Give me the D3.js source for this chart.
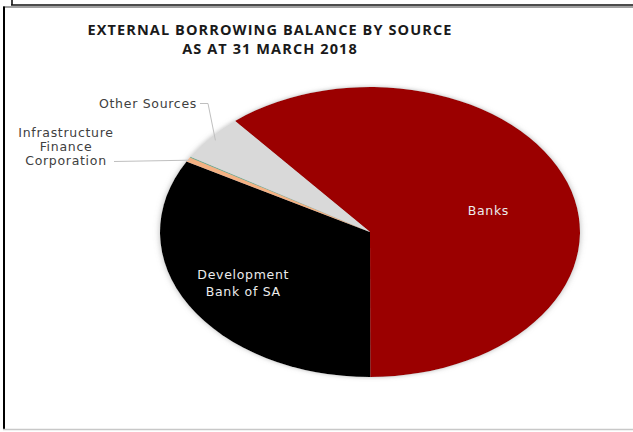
<!DOCTYPE html>
<meta charset="utf-8">
<html>
  <head>
    <style>
      body { margin: 0; background: #fff; }
      text.title { font-family: "Open Sans", sans-serif; font-weight: bold; font-size: 14.5px; letter-spacing: 1.1px; fill: #1a1a1a; }
      text.lbl { font-family: "DejaVu Sans", sans-serif; font-size: 12.5px; letter-spacing: 0.7px; fill: #404040; }
      text.inside { fill: #ececec; }
      path.leader { fill: none; stroke: #bfbfbf; stroke-width: 1px; }
    </style>
    <script src="https://d3js.org/d3.v7.min.js"></script>
  </head>
  <body>
    <div id="chart"></div>
    <script type="text/javascript">
      // share of external borrowing (%)
      var sources = ["Banks", "Development Bank of SA", "Infrastructure Finance Corporation", "Other Lenders", "Other Sources"],
          shares = [61.1, 33.1, 0.5, 0.1, 5.2],
          colors = ["#9b0000", "#000000", "#f4b183", "#6aa889", "#d9d9d9"],
          titleLines = ["EXTERNAL BORROWING BALANCE BY SOURCE", "AS AT 31 MARCH 2018"];

      var width = 633, height = 432,
          cx = 370, cy = 232, rx = 210, ry = 145, r = 100;

      var svg = d3.select("#chart").append("svg")
          .attr("width", width)
          .attr("height", height);

      // frame of the document box
      svg.append("line").attr("x1", 12).attr("x2", 12).attr("y1", 0).attr("y2", 5)
          .attr("stroke", "#000").attr("stroke-width", 1.5);
      svg.append("line").attr("x1", 11).attr("x2", width).attr("y1", 5).attr("y2", 5)
          .attr("stroke", "#111").attr("stroke-width", 1.5);
      svg.append("line").attr("x1", 3).attr("x2", width).attr("y1", 7).attr("y2", 7)
          .attr("stroke", "#444").attr("stroke-width", 1);
      svg.append("line").attr("x1", 4).attr("x2", 4).attr("y1", 6.5).attr("y2", 429)
          .attr("stroke", "#000").attr("stroke-width", 2);
      svg.append("line").attr("x1", 3).attr("x2", width).attr("y1", 429.5).attr("y2", 429.5)
          .attr("stroke", "#c8c8c8").attr("stroke-width", 1.5);

      svg.selectAll(".title")
          .data(titleLines)
          .enter().append("text")
            .attr("class", "title")
            .attr("x", 270)
            .attr("y", function(d, i) { return 35 + i * 18.5; })
            .style("text-anchor", "middle")
            .text(function(d) { return d; });

      var defs = svg.append("defs");
      defs.append("filter").attr("id", "glow")
          .attr("x", "-10%").attr("y", "-10%").attr("width", "120%").attr("height", "120%")
        .append("feDropShadow")
          .attr("dx", 0).attr("dy", 0).attr("stdDeviation", 1.5)
          .attr("flood-color", "#888").attr("flood-opacity", 0.6);

      var data = sources.map(function(s, i) { return { source: s, share: shares[i], color: colors[i] }; });

      var pie = d3.pie()
          .sort(null)
          .startAngle(-40 * Math.PI / 180)
          .endAngle(320 * Math.PI / 180)
          .value(function(d) { return d.share; });

      var arcs = pie(data);
      var arc = d3.arc().innerRadius(0).outerRadius(r);

      var g = svg.append("g")
          .attr("filter", "url(#glow)")
          .attr("transform", "translate(" + cx + "," + cy + ") scale(" + (rx / r) + "," + (ry / r) + ")");

      g.selectAll("path")
          .data(arcs)
          .enter().append("path")
            .attr("d", arc)
            .attr("fill", function(d) { return d.data.color; });

      // point on the stretched pie at angle a and radial fraction k
      function at(a, k) {
        return [cx + Math.sin(a) * rx * k, cy - Math.cos(a) * ry * k];
      }
      function mid(d) { return (d.startAngle + d.endAngle) / 2; }

      // inside labels: radial fraction and a small vertical nudge
      var inside = { "Banks": { k: 0.6, dy: 9, lines: ["Banks"] },
                     "Development Bank of SA": { k: 0.7, dy: 0, lines: ["Development", "Bank of SA"] } };
      arcs.filter(function(d) { return inside[d.data.source]; }).forEach(function(d) {
        var o = inside[d.data.source];
        var p = at(mid(d), o.k);
        svg.append("text")
            .attr("class", "lbl inside")
            .attr("x", p[0])
            .attr("y", p[1] + o.dy)
            .style("text-anchor", "middle")
          .selectAll("tspan")
          .data(o.lines)
          .enter().append("tspan")
            .attr("x", p[0])
            .attr("dy", function(l, i) { return i === 0 ? (-(o.lines.length - 1) * 17 / 2 + 4) : 17; })
            .text(function(l) { return l; });
      });

      // outside labels with leader lines
      var outside = [
        { source: "Other Sources", lines: ["Other Sources"], x: 197, y: 107.5, anchor: "end",
          path: function(p) { return [[200, 103.5], [208, 103.5], p]; } },
        { source: "Infrastructure Finance Corporation", lines: ["Infrastructure", "Finance", "Corporation"], x: 66, y: 136.5, anchor: "middle",
          path: function(p) { return [[114, 161.5], p]; } }
      ];
      outside.forEach(function(o) {
        var d = arcs.find(function(a) { return a.data.source === o.source; });
        var p = at(mid(d), o.source === "Other Sources" ? 0.97 : 0.99);
        svg.append("path")
            .attr("class", "leader")
            .attr("d", d3.line()(o.path(p)));
        svg.append("text")
            .attr("class", "lbl")
            .attr("x", o.x)
            .attr("y", o.y)
            .style("text-anchor", o.anchor)
          .selectAll("tspan")
          .data(o.lines)
          .enter().append("tspan")
            .attr("x", o.x)
            .attr("dy", function(l, i) { return i === 0 ? 0 : 14; })
            .text(function(l) { return l; });
      });
    </script>
  </body>
</html>
